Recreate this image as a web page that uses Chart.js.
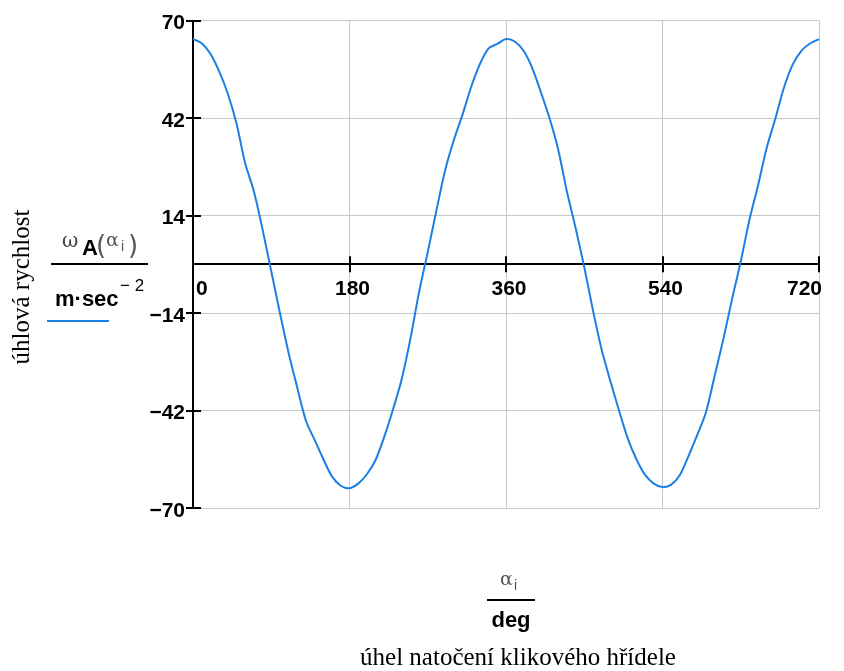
<!DOCTYPE html>
<html><head><meta charset="utf-8">
<script src="https://cdn.jsdelivr.net/npm/chart.js@4.4.1/dist/chart.umd.min.js"></script>
<style>html,body{margin:0;padding:0;background:#fff;}canvas{display:block;}</style>
</head><body>
<canvas id="c" width="844" height="671"></canvas>
<script>
// angle alpha_i [deg]
const angles = [0,10,20,30,40,50,60,70,80,90,100,110,120,130,140,150,160,170,180,
  190,200,210,220,230,240,250,260,270,280,290,300,310,320,330,340,350,360,
  370,380,390,400,410,420,430,440,450,460,470,480,490,500,510,520,530,540,
  550,560,570,580,590,600,610,620,630,640,650,660,670,680,690,700,710,720];
// omega_A(alpha_i) / (m*sec^-2)
const omegaA = [64.7,63.5,60.5,55.5,49,40.5,29,21,10,-2,-14,-25.5,-35.5,-45,-50.5,-56,-61,-63.6,-64.3,
  -63,-60.3,-56.2,-49.5,-41.7,-33,-21.5,-8,3.5,15.5,27,35.7,43,51,57.5,62,63.3,64.7,
  64,61.4,56.5,49.5,42,33,21,10.5,-0.8,-13.2,-24.5,-33.5,-42,-50,-56,-60.5,-63,-64,
  -63.3,-60.5,-55,-49,-42.5,-32,-21.5,-10,0.8,12.8,22.8,33.6,42,51,57.5,61.4,63.5,64.7];
const xTicks = [0,180,360,540,720];
const yTicks = [-70,-42,-14,14,42,70];
const yTitle = 'úhlová rychlost';
const xTitle = 'úhel natočení klikového hřídele';

const BLUE = '#1b7fe4';
const tickFont = {family:'"Liberation Sans", Arial, sans-serif', size:21, weight:'bold'};

const annot = {
  id:'annot',
  afterDraw(chart){
    const ctx = chart.ctx, xs = chart.scales.x, ys = chart.scales.y;
    const x0 = xs.getPixelForValue(0), y0 = ys.getPixelForValue(0);
    ctx.save();
    // crossing tick marks
    ctx.strokeStyle = '#000'; ctx.lineWidth = 2;
    ctx.beginPath();
    yTicks.forEach(v=>{ const p = Math.round(ys.getPixelForValue(v)); ctx.moveTo(x0-7,p); ctx.lineTo(x0+8,p); });
    xTicks.forEach(v=>{ if(v===0) return; const p = Math.round(xs.getPixelForValue(v)); ctx.moveTo(p,y0-8); ctx.lineTo(p,y0+8); });
    ctx.stroke();

    const T = (s,x,y,font,color,align)=>{ ctx.font=font; ctx.fillStyle=color||'#000'; ctx.textAlign=align||'left'; ctx.textBaseline='alphabetic'; ctx.fillText(s,x,y); };
    // left y label (fraction)
    T('ω',62,247,'20px "DejaVu Serif", serif','#444');
    T('A',82,255,'bold 22px "Liberation Sans", Arial, sans-serif','#000');
    T('(',96,254,'26px "DejaVu Sans", sans-serif','#555');
    T('α',106,246,'19px "DejaVu Serif", serif','#555');
    T('i',121,251,'14px "Liberation Sans", Arial, sans-serif','#555');
    T(')',128,254,'26px "DejaVu Sans", sans-serif','#555');
    ctx.fillStyle='#000'; ctx.fillRect(51,263,97,2);
    T('m·sec',55,306,'bold 22px "Liberation Sans", Arial, sans-serif','#000');
    T('− 2',120,291,'17px "Liberation Sans", Arial, sans-serif','#000');
    ctx.fillStyle=BLUE; ctx.fillRect(47,320,62,2);
    // rotated y title
    ctx.save(); ctx.translate(22,287); ctx.rotate(-Math.PI/2);
    ctx.font='25px "Liberation Serif", "Times New Roman", serif'; ctx.fillStyle='#000';
    ctx.textAlign='center'; ctx.textBaseline='middle'; ctx.fillText(yTitle,0,0);
    ctx.restore();
    // x label (fraction)
    T('α',500,585,'19px "DejaVu Serif", serif','#555');
    T('i',514,590,'14px "Liberation Sans", Arial, sans-serif','#555');
    ctx.fillStyle='#000'; ctx.fillRect(487,599,48,2);
    T('deg',511,627,'bold 22px "Liberation Sans", Arial, sans-serif','#000','center');
    T(xTitle,518,665,'25px "Liberation Serif", "Times New Roman", serif','#000','center');
    ctx.restore();
  }
};

new Chart(document.getElementById('c'), {
  type:'line',
  data:{ datasets:[{
    data: angles.map((a,i)=>({x:a,y:omegaA[i]})),
    borderColor:BLUE, borderWidth:2, pointRadius:0, tension:0.3, fill:false
  }]},
  options:{
    responsive:false, animation:false, devicePixelRatio:1,
    layout:{padding:{left:0,top:20,right:25,bottom:163}},
    plugins:{legend:{display:false}, tooltip:{enabled:false}},
    scales:{
      x:{ type:'linear', min:0, max:720, position:{y:0},
        afterBuildTicks:s=>{ s.ticks = xTicks.map(v=>({value:v})); },
        grid:{color:'#c8c8c8', lineWidth:1, drawTicks:false},
        border:{color:'#000', width:2},
        ticks:{align:'inner', padding:12, labelOffset:3, color:'#000', font:tickFont, maxRotation:0, autoSkip:false}
      },
      y:{ type:'linear', min:-70, max:70,
        afterBuildTicks:s=>{ s.ticks = yTicks.map(v=>({value:v})); },
        afterFit:s=>{ s.width = 193; },
        grid:{color:'#c8c8c8', lineWidth:1, drawTicks:false},
        border:{color:'#000', width:2},
        ticks:{padding:8, labelOffset:3, color:'#000', font:tickFont, autoSkip:false,
          callback:v=> v<0 ? '−'+Math.abs(v) : String(v)}
      }
    }
  },
  plugins:[annot]
});
</script>
</body></html>
